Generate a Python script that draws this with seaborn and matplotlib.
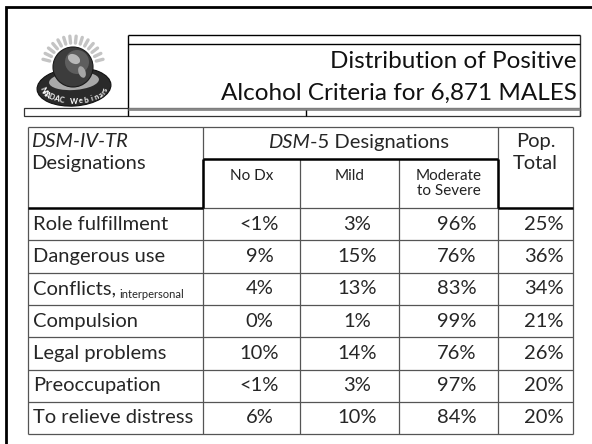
import matplotlib
matplotlib.use("Agg")
import matplotlib.pyplot as plt
from matplotlib.patches import Circle, Ellipse, Rectangle
import numpy as np
import pandas as pd
import seaborn as sns

sns.set_theme(style="white")
plt.rcParams["font.family"] = ["Lato", "DejaVu Sans"]

# table content
criteria = ["Role fulfillment", "Dangerous use", "Conflicts,", "Compulsion",
            "Legal problems", "Preoccupation", "To relieve distress"]
no_dx = ["<1%", "9%", "4%", "0%", "10%", "<1%", "6%"]
mild = ["3%", "15%", "13%", "1%", "14%", "3%", "10%"]
moderate = ["96%", "76%", "83%", "99%", "76%", "97%", "84%"]
pop_total = ["25%", "36%", "34%", "21%", "26%", "20%", "20%"]
sub_headers = ["No Dx", "Mild", "Moderate\nto Severe"]
title_lines = ["Distribution of Positive", "Alcohol Criteria for 6,871 MALES"]

df = pd.DataFrame({"criterion": criteria, "No Dx": no_dx, "Mild": mild,
                   "Moderate": moderate, "Pop. Total": pop_total})

# layout (pixels)
col_x = [28, 203, 300, 399, 498, 573]
top, sub_top, head_bot = 127, 159, 208
row_h = 32.3
bottom = head_bot + row_h * len(df)

fig = plt.figure(figsize=(5.92, 4.44), dpi=100)
ax = fig.add_axes([0, 0, 1, 1])
ax.set_xlim(0, 592)
ax.set_ylim(444, 0)
ax.axis("off")

# slide frame
ax.plot([6, 6, 592], [444, 7, 7], color="black", lw=2, solid_joinstyle="miter")

# title box
ax.vlines(128, 35, 116, color="black", lw=1)
ax.vlines(580, 35, 116, color="#333333", lw=1)
ax.hlines([35, 44], 128, 580, color="black", lw=1)
ax.add_patch(Rectangle((24, 108), 556, 8, fc="white", ec="#333333", lw=0.9))
ax.hlines(109.5, 128, 580, color="#888888", lw=2)
ax.vlines(306, 110, 116, color="black", lw=1)
for i, line in enumerate(title_lines):
    ax.text(577, 68 + 32 * i, line, ha="right", va="baseline", fontsize=17.5,
            color="#111111")

# logo
cx, cy = 73, 67
for a in np.linspace(np.pi * 0.92, np.pi * 0.08, 14):
    ax.plot([cx + 24 * np.cos(a), cx + 31 * np.cos(a)],
            [cy - 24 * np.sin(a), cy - 31 * np.sin(a)],
            color="#c4c4c4", lw=2.4, solid_capstyle="round")
ex0, ey0, ea, eb = 74, 87, 37, 19
ax.add_patch(Ellipse((ex0, ey0), 2 * ea, 2 * eb, angle=-4, fc="#2a2a2a",
                     ec="#111111", lw=0.8))
ax.add_patch(Ellipse((ex0, ey0 - 6), 50, 18, angle=-4, fc="#a8a8a8", ec="none"))
ax.add_patch(Circle((cx, cy), 20, fc="#3c3c3c", ec="#1a1a1a", lw=0.8))
ax.add_patch(Circle((cx + 4, cy - 5), 12, fc="#5e5e5e", ec="none"))
ax.add_patch(Ellipse((cx + 1, cy - 8), 13, 9, angle=30, fc="#b8b8b8", ec="none"))
ax.add_patch(Ellipse((cx + 9, cy + 5), 7, 12, angle=-20, fc="#a5a5a5", ec="none"))
logo_text = "NAADAC Webinars"
for ch, t in zip(logo_text, np.deg2rad(np.linspace(190, 350, len(logo_text)))):
    px = ex0 + (ea - 5) * np.cos(t)
    py = ey0 - (eb - 5) * np.sin(t)
    rot = np.rad2deg(np.arctan2((eb - 5) * np.cos(t), -(ea - 5) * np.sin(t)))
    ax.text(px, py, ch, fontsize=5.5, color="white", fontweight="bold",
            ha="center", va="center", rotation=rot)

# table grid, thin lines
thin = dict(color="#555555", lw=0.9)
ax.hlines(top, col_x[0], col_x[-1], **thin)
ax.hlines(head_bot, col_x[1], col_x[4], **thin)
for i in range(1, len(df) + 1):
    ax.hlines(head_bot + row_h * i, col_x[0], col_x[-1], **thin)
ax.vlines([col_x[0], col_x[1], col_x[4], col_x[5]], top, bottom, **thin)
ax.vlines([col_x[2], col_x[3]], sub_top, bottom, **thin)

# thick outline around sub-headers
thick = dict(color="black", lw=1.8)
ax.hlines(head_bot, col_x[0], col_x[1], **thick)
ax.hlines(head_bot, col_x[4], col_x[5], **thick)
ax.hlines(sub_top, col_x[1], col_x[4], **thick)
ax.vlines([col_x[1], col_x[4]], sub_top, head_bot, **thick)

# header text
fs = 14.5
ax.text(31, 141, "DSM-IV-TR", style="italic", fontsize=fs, va="center")
ax.text(31, 163, "Designations", fontsize=fs, va="center")
ax.text(310, 142, "DSM", style="italic", fontsize=fs, va="center", ha="right")
ax.text(310, 142, "-5 Designations", fontsize=fs, va="center", ha="left")
ax.text(535.5, 141, "Pop.", fontsize=fs, va="center", ha="center")
ax.text(535.5, 163, "Total", fontsize=fs, va="center", ha="center")
for j, lab in enumerate(sub_headers):
    xc = (col_x[j + 1] + col_x[j + 2]) / 2
    ax.text(xc, 169, lab, fontsize=11, va="top", ha="center", color="#222222",
            linespacing=1.05)

# rows
value_cols = ["No Dx", "Mild", "Moderate", "Pop. Total"]
for i, row in df.iterrows():
    yc = head_bot + row_h * (i + 0.5)
    t = ax.text(33, yc, row["criterion"], fontsize=fs, va="center")
    if row["criterion"] == "Conflicts,":
        ax.annotate("interpersonal", xy=(1, 0), xycoords=t, xytext=(2.5, -0.5),
                    textcoords="offset points", fontsize=8, va="baseline")
    for j, c in enumerate(value_cols):
        xc = (col_x[j + 1] + col_x[j + 2]) / 2 + 8
        ax.text(xc, yc, row[c], fontsize=fs, va="center", ha="center")

fig.savefig("out.png", dpi=100)
